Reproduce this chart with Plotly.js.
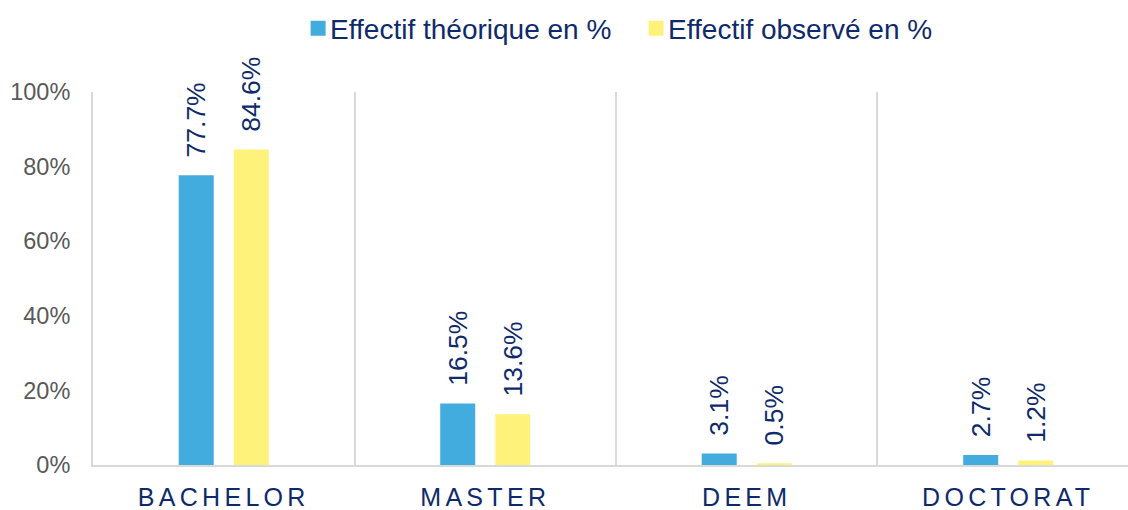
<!DOCTYPE html>
<html>
<head>
<meta charset="utf-8">
<script src="https://cdn.plot.ly/plotly-3.0.1.min.js"></script>
<style>
html,body{margin:0;padding:0;background:#fff;}
#chart{width:1128px;height:510px;}
.xtick text{letter-spacing:4.3px;}
.legendpoints path{transform:translate(28px,0px) scale(1.25);}
</style>
</head>
<body>
<div id="chart"></div>
<script>
const categories = ['BACHELOR', 'MASTER', 'DEEM', 'DOCTORAT'];
const seriesNames = ['Effectif théorique en %', 'Effectif observé en %'];
const theorique = [77.7, 16.5, 3.1, 2.7];
const observe = [84.6, 13.6, 0.5, 1.2];
const yTicks = [0, 20, 40, 60, 80, 100];

const navy = '#0e2a6a';
const font = 'Liberation Sans, Arial, sans-serif';

function barTrace(name, values, color) {
  return {
    type: 'bar',
    name: name,
    x: categories,
    y: values,
    marker: {color: color},
    texttemplate: '\u00a0\u00a0%{y:.1f}%',
    textposition: 'outside',
    textangle: -90,
    constraintext: 'none',
    cliponaxis: false,
    textfont: {family: font, size: 26.5, color: navy},
    hoverinfo: 'skip'
  };
}

const data = [
  barTrace(seriesNames[0], theorique, '#43acdf'),
  barTrace(seriesNames[1], observe, '#fff27a')
];

const layout = {
  width: 1128,
  height: 510,
  margin: {l: 93, r: 0, t: 92, b: 45},
  paper_bgcolor: '#ffffff',
  plot_bgcolor: '#ffffff',
  font: {family: font},
  barmode: 'group',
  bargap: 0.579,
  bargroupgap: 0.364,
  showlegend: true,
  legend: {
    orientation: 'h',
    x: 0.517, xanchor: 'center',
    y: 1.17, yanchor: 'middle',
    entrywidth: 293,
    font: {family: font, size: 28, color: navy},
    traceorder: 'normal'
  },
  xaxis: {
    type: 'category',
    range: [-0.5, 3.458],
    tickson: 'boundaries',
    showgrid: true,
    gridcolor: '#d9d9d9',
    gridwidth: 2,
    showline: true,
    linecolor: '#d9d9d9',
    linewidth: 2,
    ticks: '',
    tickfont: {family: font, size: 25, color: navy},
    ticklabelstandoff: 9,
    fixedrange: true
  },
  yaxis: {
    range: [0, 100],
    tickvals: yTicks,
    ticktext: yTicks.map(v => v + '%'),
    showgrid: false,
    zeroline: false,
    showline: true,
    linecolor: '#d9d9d9',
    linewidth: 2,
    ticks: '',
    tickfont: {family: font, size: 23.5, color: '#595959'},
    ticklabelstandoff: 16,
    fixedrange: true
  }
};

Plotly.newPlot('chart', data, layout, {displayModeBar: false, staticPlot: true});
</script>
</body>
</html>
